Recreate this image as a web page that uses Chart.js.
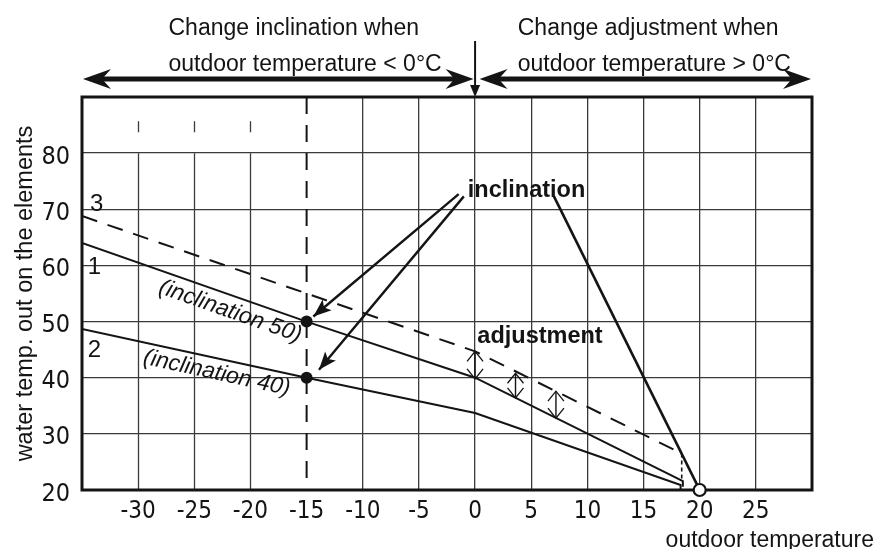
<!DOCTYPE html>
<html><head><meta charset="utf-8">
<script src="https://cdn.jsdelivr.net/npm/chart.js@4/dist/chart.umd.min.js"></script>
<style>html,body{margin:0;padding:0;background:#fff}canvas{display:block}</style>
</head><body>
<canvas id="c" width="881" height="549"></canvas>
<script>
// ---- data ----
const xTickLabels = [-30, -25, -20, -15, -10, -5, 0, 5, 10, 15, 20, 25];
const yTickLabels = [20, 30, 40, 50, 60, 70, 80];

// curve 1 (inclination 50)
const curve1X = [-35, -15, 0, 18.5, 18.5];
const curve1Y = [64, 50, 40, 21.6, 20.6];
// curve 2 (inclination 40)
const curve2X = [-35, -15, 0, 18.3, 18.3];
const curve2Y = [48.7, 40, 33.7, 20.9, 20];
// curve 3 (curve 1 with adjustment, dashed)
const curve3X = [-35, -15, 0, 18.4];
const curve3Y = [68.8, 55, 44.7, 26.5];
const curve3DropX = [18.4, 18.4];
const curve3DropY = [26.5, 21.6];
// reference line at -15 °C
const refLineX = [-15, -15];
const refLineY = [90, 20];
// inclination pointer line to the origin point
const inclLineX = [7, 19.75];
const inclLineY = [72.4, 21];
// marked points
const markerX = [-15, -15];
const markerY = [50, 40];
const originX = [20];
const originY = [20];
// arrows from the "inclination" label
const arrowStartX = [-1.46, -1.0];
const arrowStartY = [72.7, 72.3];
const arrowEndX = [-14.4, -13.9];
const arrowEndY = [50.9, 41.4];
// adjustment double arrows
const adjX = [0, 3.6, 7.2];
const adjTop = [44.7, 40.8, 37.6];
const adjBottom = [39.8, 36.4, 32.8];

// grid lines not drawn full height
const partialGridX = [-30, -25, -20];
const hiddenGridX = [-30, -25, -20, -15];

// ---- styling ----
const ink = '#141414';
const gridColor = '#3a3a3a';
const FAM = "'Liberation Sans', Arial, Helvetica, sans-serif";
const TICKFAM = "'Liberation Sans Narrow', 'DejaVu Sans Condensed', 'Liberation Sans', Arial, sans-serif";

function pts(xs, ys) { return xs.map((x, i) => ({ x: x, y: ys[i] })); }
function lineDs(label, xs, ys, extra) {
  return Object.assign({
    label: label, data: pts(xs, ys), showLine: true, borderColor: ink, backgroundColor: ink,
    borderWidth: 2, pointRadius: 0, pointHoverRadius: 0, fill: false, tension: 0, order: 2
  }, extra || {});
}

const datasets = [
  lineDs('curve 1', curve1X, curve1Y),
  lineDs('curve 2', curve2X, curve2Y),
  lineDs('curve 3', curve3X, curve3Y, { borderDash: [16, 11] }),
  lineDs('curve 3 drop', curve3DropX, curve3DropY, { borderDash: [4, 3], borderWidth: 1.6 }),
  lineDs('-15 °C', refLineX, refLineY, { borderDash: [17, 11], borderWidth: 2 }),
  lineDs('inclination line', inclLineX, inclLineY, { borderWidth: 2.6 })
];
arrowStartX.forEach((v, i) => datasets.push(
  lineDs('arrow ' + (i + 1), [arrowStartX[i], arrowEndX[i]], [arrowStartY[i], arrowEndY[i]], { borderWidth: 2.4 })));
adjX.forEach((v, i) => datasets.push(
  lineDs('adjustment ' + (i + 1), [adjX[i], adjX[i]], [adjTop[i], adjBottom[i]], { borderWidth: 1.4 })));
datasets.push({
  label: 'points', data: pts(markerX, markerY), showLine: false, pointRadius: 6,
  pointBackgroundColor: ink, pointBorderColor: ink, pointBorderWidth: 0, order: 0
});
datasets.push({
  label: 'origin', data: pts(originX, originY), showLine: false, pointRadius: 6,
  pointBackgroundColor: '#fff', pointBorderColor: ink, pointBorderWidth: 2.2, clip: false, order: 0
});

function arrowHead(ctx, tx, ty, fx, fy, len, half, notch) {
  const a = Math.atan2(ty - fy, tx - fx);
  const ux = Math.cos(a), uy = Math.sin(a);
  const bx = tx - len * ux, by = ty - len * uy;
  ctx.beginPath();
  ctx.moveTo(tx, ty);
  ctx.lineTo(bx - half * uy, by + half * ux);
  if (notch) ctx.lineTo(tx - notch * ux, ty - notch * uy);
  ctx.lineTo(bx + half * uy, by - half * ux);
  ctx.closePath();
  ctx.fill();
}

const deco = {
  id: 'deco',
  beforeDraw(chart) {
    const ctx = chart.ctx;
    ctx.save(); ctx.fillStyle = '#fff'; ctx.fillRect(0, 0, chart.width, chart.height); ctx.restore();
  },
  beforeDatasetsDraw(chart) {
    const { ctx, chartArea: ca, scales: { x, y } } = chart;
    ctx.save();
    ctx.strokeStyle = gridColor; ctx.lineWidth = 1.3;
    partialGridX.forEach(v => {
      const px = Math.round(x.getPixelForValue(v)) + 0.5;
      ctx.beginPath();
      ctx.moveTo(px, y.getPixelForValue(80)); ctx.lineTo(px, y.getPixelForValue(20));
      ctx.moveTo(px, y.getPixelForValue(85.7)); ctx.lineTo(px, y.getPixelForValue(83.7));
      ctx.stroke();
    });
    // frame
    ctx.strokeStyle = ink; ctx.lineWidth = 3;
    ctx.strokeRect(ca.left, ca.top, ca.right - ca.left, ca.bottom - ca.top);
    ctx.restore();
  },
  afterDatasetsDraw(chart) {
    const { ctx, chartArea: ca, scales: { x, y } } = chart;
    ctx.save();
    ctx.fillStyle = ink; ctx.strokeStyle = ink;
    // arrowheads on the inclination arrows
    arrowStartX.forEach((v, i) => {
      arrowHead(ctx, x.getPixelForValue(arrowEndX[i]), y.getPixelForValue(arrowEndY[i]),
        x.getPixelForValue(arrowStartX[i]), y.getPixelForValue(arrowStartY[i]), 18, 7, 14);
    });
    // chevrons on adjustment arrows
    ctx.lineWidth = 1.3;
    adjX.forEach((v, i) => {
      const px = x.getPixelForValue(v);
      const t = y.getPixelForValue(adjTop[i]), b = y.getPixelForValue(adjBottom[i]);
      ctx.beginPath();
      ctx.moveTo(px - 8, t + 10); ctx.lineTo(px, t); ctx.lineTo(px + 8, t + 10);
      ctx.moveTo(px - 8, b - 10); ctx.lineTo(px, b); ctx.lineTo(px + 8, b - 10);
      ctx.stroke();
    });
    // top double arrows
    const ay = ca.top - 18;
    const x0 = x.getPixelForValue(0);
    const xl = x.getPixelForValue(-35) + 1, xr = x.getPixelForValue(30) - 1;
    ctx.lineWidth = 5;
    ctx.beginPath();
    ctx.moveTo(xl + 18, ay); ctx.lineTo(x0 - 19, ay);
    ctx.moveTo(x0 + 23, ay); ctx.lineTo(xr - 18, ay);
    ctx.stroke();
    arrowHead(ctx, xl, ay, xl + 50, ay, 28, 10, 19);
    arrowHead(ctx, x0 - 1.5, ay, x0 - 50, ay, 28, 10, 19);
    arrowHead(ctx, x0 + 4.5, ay, x0 + 50, ay, 28, 10, 19);
    arrowHead(ctx, xr, ay, xr - 50, ay, 28, 10, 19);
    // vertical arrow at 0 °C
    ctx.lineWidth = 2;
    ctx.beginPath(); ctx.moveTo(x0, ca.top - 56); ctx.lineTo(x0, ca.top - 8); ctx.stroke();
    arrowHead(ctx, x0, ca.top, x0, ca.top - 40, 12, 5, 0);
    ctx.restore();
  },
  afterDraw(chart) {
    const { ctx, chartArea: ca, scales: { x, y } } = chart;
    ctx.save();
    ctx.fillStyle = ink;
    ctx.textBaseline = 'alphabetic';
    ctx.textAlign = 'left';
    ctx.font = '23px ' + FAM;
    ctx.fillText('Change inclination when', x.getPixelForValue(-27.3), ca.top - 62);
    ctx.fillText('outdoor temperature < 0°C', x.getPixelForValue(-27.3), ca.top - 26.5);
    ctx.fillText('Change adjustment when', x.getPixelForValue(3.8), ca.top - 62);
    ctx.fillText('outdoor temperature > 0°C', x.getPixelForValue(3.8), ca.top - 26.5);
    ctx.textAlign = 'right';
    ctx.fillText('outdoor temperature', chart.width - 7, chart.height - 2.5);
    // bold labels
    ctx.textAlign = 'left';
    ctx.font = 'bold 23.5px ' + FAM;
    ctx.fillText('inclination', x.getPixelForValue(-0.65), y.getPixelForValue(72.1));
    ctx.fillText('adjustment', x.getPixelForValue(0.2), y.getPixelForValue(46.2));
    // curve numbers
    ctx.font = '24px ' + FAM;
    ctx.textAlign = 'center'; ctx.textBaseline = 'middle';
    ctx.fillText('3', x.getPixelForValue(-33.7), y.getPixelForValue(70.9));
    ctx.fillText('1', x.getPixelForValue(-33.9), y.getPixelForValue(59.7));
    ctx.fillText('2', x.getPixelForValue(-33.9), y.getPixelForValue(44.9));
    // rotated curve labels
    ctx.font = 'italic 23px ' + FAM;
    const rot = (txt, cx, cy, xs, ys) => {
      const ang = Math.atan2(y.getPixelForValue(ys[1]) - y.getPixelForValue(ys[0]),
        x.getPixelForValue(xs[1]) - x.getPixelForValue(xs[0]));
      ctx.save();
      ctx.translate(x.getPixelForValue(cx), y.getPixelForValue(cy));
      ctx.rotate(ang);
      ctx.fillText(txt, 0, 0);
      ctx.restore();
    };
    rot('(inclination 50)', -21.8, 51.8, curve1X, curve1Y);
    rot('(inclination 40)', -23, 40.8, curve2X, curve2Y);
    ctx.restore();
  }
};

new Chart(document.getElementById('c'), {
  type: 'scatter',
  data: { datasets: datasets },
  options: {
    responsive: false, animation: false, devicePixelRatio: 1,
    layout: { padding: { left: 0, top: 97, right: 69, bottom: 0 } },
    plugins: { legend: { display: false }, tooltip: { enabled: false } },
    events: [],
    scales: {
      x: {
        type: 'linear', min: -35, max: 30,
        afterFit: s => { s.height = 59; },
        border: { display: false },
        grid: {
          drawTicks: false, lineWidth: 1.3,
          color: c => (c.tick && hiddenGridX.includes(c.tick.value)) ? 'rgba(0,0,0,0)' : gridColor
        },
        ticks: {
          stepSize: 5, autoSkip: false, maxRotation: 0, padding: 7.5, color: ink,
          font: { size: 24, family: TICKFAM },
          callback: v => xTickLabels.includes(v) ? String(v) : ''
        }
      },
      y: {
        type: 'linear', min: 20, max: 90,
        afterFit: s => { s.width = 82; },
        border: { display: false },
        grid: { drawTicks: false, lineWidth: 1.3, color: gridColor },
        title: {
          display: true, text: 'water temp. out on the elements', color: ink,
          font: { size: 23.5, family: FAM }, padding: { top: 11, bottom: 0 }
        },
        ticks: {
          stepSize: 10, autoSkip: false, padding: 12, labelOffset: 4, color: ink,
          font: { size: 25, family: TICKFAM },
          callback: v => yTickLabels.includes(v) ? String(v) : ''
        }
      }
    }
  },
  plugins: [deco]
});
</script>
</body></html>
